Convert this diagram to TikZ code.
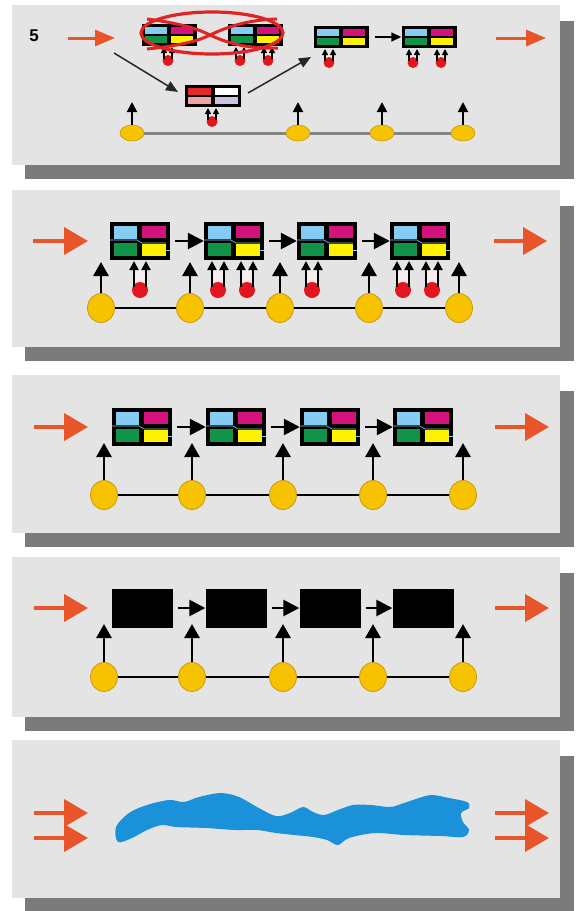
\documentclass[tikz,border=0pt]{standalone}
\usepackage{fontspec}
\setsansfont{Liberation Sans}
\usetikzlibrary{arrows.meta,shapes.geometric}
\definecolor{panelbg}{HTML}{E4E4E4}
\definecolor{shadowc}{HTML}{7B7B7B}
\definecolor{orangec}{HTML}{E9552B}
\definecolor{yellowc}{HTML}{F7C300}
\definecolor{yellowd}{HTML}{C99A10}
\definecolor{qblue}{HTML}{86CBF2}
\definecolor{qmag}{HTML}{D3127C}
\definecolor{qgreen}{HTML}{12934A}
\definecolor{qyel}{HTML}{FFF200}
\definecolor{tubered}{HTML}{E3161E}
\definecolor{tubein}{HTML}{F8ECEC}
\definecolor{blobc}{HTML}{1B91D9}
\definecolor{pred}{HTML}{E02A2A}
\definecolor{ppink}{HTML}{EFA3A8}
\definecolor{plav}{HTML}{C9C3E2}
\definecolor{lineg}{HTML}{858585}
\definecolor{crossred}{HTML}{E22323}
\tikzset{
 panelbox/.style={fill=panelbg},
 shadowbox/.style={fill=shadowc},
 orarrow/.style={draw=orangec, line width=4, -{Triangle[width=27,length=24]}},
 orarrowS/.style={draw=orangec, line width=3, -{Triangle[width=16,length=20]}},
 ycirc/.style={ellipse, fill=yellowc, draw=yellowd, line width=0.8, minimum width=27, minimum height=29, inner sep=0},
 ycircS/.style={ellipse, fill=yellowc, draw=yellowd, line width=0.6, minimum width=24, minimum height=16, inner sep=0},
 uparrow/.style={draw=black, line width=2.8, -{Triangle[width=15,length=14]}},
 uparrowS/.style={draw=black, line width=1.9, -{Triangle[width=10,length=10]}},
 linkarrow/.style={draw=black, line width=2.6, -{Triangle[width=16,length=16]}, shorten <=5},
 linkarrowS/.style={draw=black, line width=1.5, -{Triangle[width=9,length=10]}, shorten <=6},
 diagarrow/.style={draw=black!85, line width=1.5, -{Triangle[width=10,length=12]}},
 chainline/.style={draw=black, line width=2.4},
 chainlineS/.style={draw=lineg, line width=3},
 boxnode/.style={rectangle, fill=black, inner sep=0},
 bigbox/.pic={
  \node[boxnode, minimum width=60, minimum height=38] (-n) at (0,0) {};
  \fill[qblue] (-26,-15) rectangle (-3,-2);
  \fill[qmag] (2,-15) rectangle (26,-3);
  \fill[qgreen] (-26,2) rectangle (-3,15);
  \fill[qyel] (2,3) rectangle (26,15);
  \draw[qblue, line width=0.6] (-30,-1) -- (-3,-1) -- (2,2) -- (26,2);
  \draw[qblue, line width=0.6] (26,9) -- (30,9);
 },
 smallbox/.pic={
  \node[boxnode, minimum width=55, minimum height=22] (-n) at (0,0) {};
  \fill[qblue] (-24,-8) rectangle (-2,-1);
  \fill[qmag] (2,-8) rectangle (24,-1);
  \fill[qgreen] (-24,1) rectangle (-2,8);
  \fill[qyel] (2,1) rectangle (24,8);
 },
 midbox/.pic={
  \node[boxnode, minimum width=56, minimum height=22] (-n) at (0,0) {};
  \fill[pred] (-25,-8) rectangle (-2,-1);
  \fill[white] (2,-8) rectangle (25,-1);
  \fill[ppink] (-25,1) rectangle (-2,8);
  \fill[plav] (2,1) rectangle (25,8);
 },
 tubeB/.pic={
  \fill[tubein] (-6,8) -- (-6,29) arc[start angle=180,end angle=0,radius=6] -- (6,8) -- cycle;
  \fill[tubered] (0,29) circle[radius=8];
  \draw[line width=2, -{Triangle[width=9,length=9]}] (-6,26) -- (-6,0);
  \draw[line width=2, -{Triangle[width=9,length=9]}] (6,26) -- (6,0);
 },
 tubeS/.pic={
  \fill[tubein] (-4,5) -- (-4,13) arc[start angle=180,end angle=0,radius=4] -- (4,5) -- cycle;
  \fill[tubered] (0,13.5) circle[radius=5.5];
  \draw[line width=1.3, -{Triangle[width=6,length=6]}] (-4,12) -- (-4,0);
  \draw[line width=1.3, -{Triangle[width=6,length=6]}] (4,12) -- (4,0);
 },
}
\begin{document}
\begin{tikzpicture}[x=1pt,y=-1pt]
\useasboundingbox (0,0) rectangle (576,911);
\fill[white] (0,0) rectangle (576,911);
% panels with shadows
\foreach \t/\b in {5/165,190/347,375/533,557/717,740/898}{
  \fill[shadowbox] (25,\t+16) rectangle (574,\b+14);
  \fill[panelbox] (12,\t) rectangle (560,\b);
}
% ================= Panel 1 =================
\node[font=\fontsize{17}{17}\sffamily\bfseries, inner sep=0] (fivelbl) at (34,36) {5};
\coordinate (p1L0) at (68,38); \coordinate (p1L1) at (115,38);
\draw[orarrowS] (p1L0) -- (p1L1);
\coordinate (p1R0) at (496,38); \coordinate (p1R1) at (546,38);
\draw[orarrowS] (p1R0) -- (p1R1);
\pic (bA) at (169,35) {smallbox};
\pic (bB) at (255,35) {smallbox};
\pic (bC) at (341,37) {smallbox};
\pic (bD) at (429,37) {smallbox};
\pic (bM) at (213,96) {midbox};
\foreach \x in {168,240,268} \pic at (\x,47) {tubeS};
\foreach \x in {329,413,441} \pic at (\x,49) {tubeS};
\pic at (212,108) {tubeS};
% crossed out
\draw[crossred, line width=3.2] (212,33) ellipse[x radius=71, y radius=21];
\draw[crossred, line width=3] (147,19) .. controls (185,24) and (200,30) .. (210,35) .. controls (225,42) and (245,49) .. (278,48);
\draw[crossred, line width=3] (147,49) .. controls (185,45) and (200,40) .. (210,35) .. controls (225,28) and (245,20) .. (277,19);
\draw[linkarrowS] (bC-n) -- (bD-n);
\coordinate (d1s) at (114,53); \coordinate (d1e) at (178,92);
\draw[diagarrow] (d1s) -- (d1e);
\coordinate (d2s) at (248,93); \coordinate (d2e) at (311,57);
\draw[diagarrow] (d2s) -- (d2e);
\foreach \i/\x in {1/132,2/298,3/382,4/463}{
  \coordinate (p1t\i) at (\x,102);
}
\draw[chainlineS] (132,133) -- (463,133);
\foreach \i/\x in {1/132,2/298,3/382,4/463}{
  \node[ycircS] (p1c\i) at (\x,133) {};
  \draw[uparrowS] (p1c\i) -- (p1t\i);
}
% ================= Panel 2 =================
\coordinate (p2L0) at (33,241); \coordinate (p2L1) at (88,241);
\draw[orarrow] (p2L0) -- (p2L1);
\coordinate (p2R0) at (494,241); \coordinate (p2R1) at (547,241);
\draw[orarrow] (p2R0) -- (p2R1);
\foreach \i/\x in {1/140,2/234,3/327,4/420} \pic (p2b\i) at (\x,241) {bigbox};
\foreach \a/\b in {1/2,2/3,3/4} \draw[linkarrow] (p2b\a-n) -- (p2b\b-n);
\foreach \x in {140,218,247,312,403,432} \pic at (\x,261) {tubeB};
\foreach \i/\x in {1/101,2/190,3/280,4/369,5/459}{
  \node[ycirc] (p2c\i) at (\x,308) {};
  \coordinate (p2t\i) at (\x,262);
}
\draw[chainline] (p2c1) -- (p2c2) -- (p2c3) -- (p2c4) -- (p2c5);
\foreach \i in {1,...,5} \draw[uparrow] (p2c\i) -- (p2t\i);
% ================= Panel 3 =================
\coordinate (p3L0) at (34,427); \coordinate (p3L1) at (88,427);
\draw[orarrow] (p3L0) -- (p3L1);
\coordinate (p3R0) at (495,427); \coordinate (p3R1) at (549,427);
\draw[orarrow] (p3R0) -- (p3R1);
\foreach \i/\x in {1/142,2/236,3/330,4/423} \pic (p3b\i) at (\x,427) {bigbox};
\foreach \a/\b in {1/2,2/3,3/4} \draw[linkarrow] (p3b\a-n) -- (p3b\b-n);
\foreach \i/\x in {1/104,2/192,3/283,4/373,5/463}{
  \node[ycirc] (p3c\i) at (\x,495) {};
  \coordinate (p3t\i) at (\x,443);
}
\draw[chainline] (p3c1) -- (p3c2) -- (p3c3) -- (p3c4) -- (p3c5);
\foreach \i in {1,...,5} \draw[uparrow] (p3c\i) -- (p3t\i);
% ================= Panel 4 =================
\coordinate (p4L0) at (34,608); \coordinate (p4L1) at (88,608);
\draw[orarrow] (p4L0) -- (p4L1);
\coordinate (p4R0) at (495,608); \coordinate (p4R1) at (549,608);
\draw[orarrow] (p4R0) -- (p4R1);
\foreach \i/\x in {1/142,2/236,3/330,4/423}
  \node[boxnode, minimum width=61, minimum height=39] (p4b\i) at (\x,608) {};
\foreach \a/\b in {1/2,2/3,3/4} \draw[linkarrow] (p4b\a) -- (p4b\b);
\foreach \i/\x in {1/104,2/192,3/283,4/373,5/463}{
  \node[ycirc] (p4c\i) at (\x,677) {};
  \coordinate (p4t\i) at (\x,624);
}
\draw[chainline] (p4c1) -- (p4c2) -- (p4c3) -- (p4c4) -- (p4c5);
\foreach \i in {1,...,5} \draw[uparrow] (p4c\i) -- (p4t\i);
% ================= Panel 5 =================
\foreach \y/\n in {813/a,838/b}{
  \coordinate (p5L0\n) at (34,\y); \coordinate (p5L1\n) at (88,\y);
  \draw[orarrow] (p5L0\n) -- (p5L1\n);
  \coordinate (p5R0\n) at (495,\y); \coordinate (p5R1\n) at (549,\y);
  \draw[orarrow] (p5R0\n) -- (p5R1\n);
}
\fill[blobc] plot[smooth cycle, tension=0.55] coordinates {
 (116,827) (129,813) (147,805) (169,800) (184,802) (199,797) (221,793) (239,797)
 (257,807) (276,816) (290,813) (303,807) (313,812) (324,815) (338,810) (353,805)
 (371,805) (390,807) (404,803) (419,798) (432,795) (449,798) (467,802) (469,808)
 (461,813) (463,822) (469,830) (463,837) (441,836) (404,835) (375,833) (349,838)
 (338,845) (327,840) (313,837) (294,835) (276,833) (257,830) (235,830) (206,828)
 (176,827) (162,825) (147,830) (132,838) (118,842)};
\end{tikzpicture}
\end{document}
